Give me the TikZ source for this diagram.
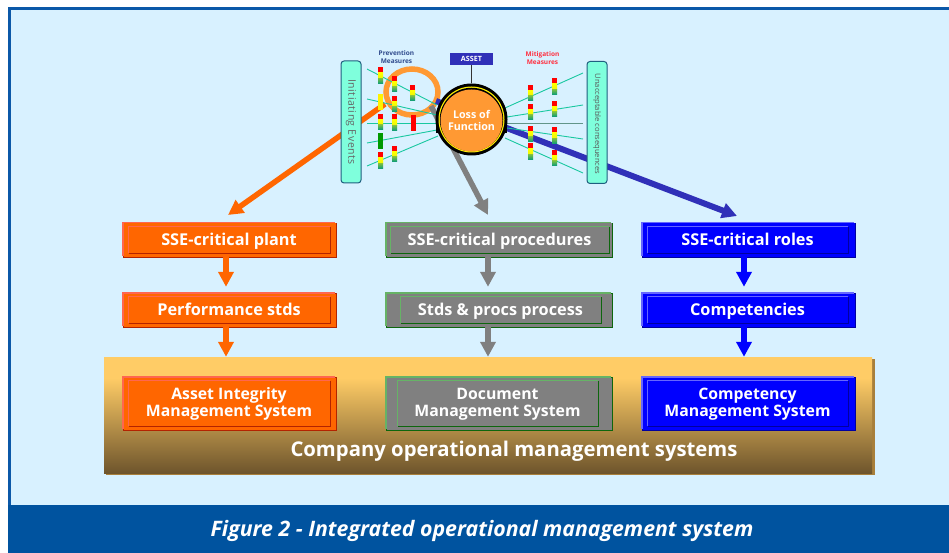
\documentclass[tikz,border=0pt]{standalone}
\usepackage{fontspec}
\setmainfont{Open Sans}
\usetikzlibrary{arrows.meta,calc,shapes.geometric}
\definecolor{bgc}{HTML}{D8F1FF}
\definecolor{bandc}{HTML}{00539F}
\definecolor{framec}{HTML}{0B58A8}
\definecolor{tealc}{HTML}{19C8A0}
\definecolor{aquac}{HTML}{7FFFDC}
\definecolor{aquaedge}{HTML}{1F5F7F}
\definecolor{ringc}{HTML}{FF9933}
\definecolor{assetc}{HTML}{3030B8}
\definecolor{prevc}{HTML}{2F4A8C}
\definecolor{mitc}{HTML}{FF3040}
\definecolor{orF}{HTML}{FF6600}\definecolor{orL}{HTML}{FF6650}\definecolor{orD}{HTML}{B32400}
\definecolor{grF}{HTML}{808080}\definecolor{grL}{HTML}{66B366}\definecolor{grD}{HTML}{0D660D}
\definecolor{blF}{HTML}{0000FF}\definecolor{blL}{HTML}{6666FF}\definecolor{blD}{HTML}{0000A0}
\definecolor{bigshadow}{HTML}{A87F3B}
\definecolor{barG}{HTML}{7CC040}\definecolor{barT}{HTML}{009980}
\pgfdeclareverticalshading{bigshade}{100bp}{rgb(0bp)=(0.431,0.333,0.173); rgb(25bp)=(0.431,0.333,0.173); rgb(66bp)=(1,0.8,0.4); rgb(100bp)=(1,0.8,0.4)}
\newcommand{\twolinefont}{\fontsize{15.8}{17}\selectfont}
\tikzset{
  tealline/.style={draw=tealc,line width=0.9pt},
  bigarrow/.style={line width=5.5pt,-{Triangle[width=15pt,length=15pt]}},
  downarrow/.style={bigarrow},
  syslabel/.style={inner sep=0pt,text=white,align=center,font=\fontsize{16.3}{17}\selectfont\bfseries,
    execute at begin node={\rule[-4.5pt]{0pt}{12.5pt}},execute at end node={\rule[-4.5pt]{0pt}{12.5pt}}},
  sidebox/.style={draw=aquaedge,fill=aquac,line width=1pt,rounded corners=3pt,inner sep=0pt,minimum width=20pt,minimum height=122pt},
}
% name, x0, y0, x1, y1, inner x0, inner x1, palette, text
\newcommand{\sysbox}[9]{%
  \fill[#8D] (#2+1,#3+1) rectangle (#4+1,#5+1);
  \fill[#8L] (#2,#3) rectangle (#4-1,#5-1);
  \fill[#8F] (#2+1.5,#3+1.5) rectangle (#4,#5-0.5);
  \fill[#8D] (#6+1,#3+5) rectangle (#7+0.6,#5-3.4);
  \fill[#8L] (#6,#3+4) rectangle (#7-0.4,#5-4.4);
  \fill[#8F] (#6+1,#3+5) rectangle (#7-0.4,#5-4.4);
  \node[syslabel,minimum width=#7pt-#6pt,minimum height=#5pt-#3pt-8pt] (#1) at ({(#6+#7)/2},{(#3+#5)/2+1.7}) {#9};
}
\newcommand{\barrier}[3]{%
  \fill[red] (#1,#2) rectangle (#1+5,#2+#3/3);
  \shade[top color=yellow,bottom color=yellow!85!barG] (#1,#2+#3/3) rectangle (#1+5,#2+#3*2/3);
  \shade[top color=barG,bottom color=barT] (#1,#2+#3*2/3) rectangle (#1+5,#2+#3);
}
\begin{document}
\begin{tikzpicture}[x=1pt,y=-1pt]
\useasboundingbox (0,0) rectangle (949,553);
\fill[white] (0,0) rectangle (949,553);
\fill[framec] (8,7) rectangle (949,553);
\fill[bgc] (11,10) rectangle (949,505);
\fill[bandc] (8,505) rectangle (949,553);
\node[inner sep=0pt,text=white,font=\fontsize{21.3}{24}\selectfont\bfseries\itshape] (caption) at (482,531) {Figure 2 - Integrated operational management system};

% company frame
\fill[bigshadow] (106,359) rectangle (875,475);
\node[inner sep=0pt,minimum width=768pt,minimum height=116pt,shading=bigshade] (bigbox) at (488,415) {};
\node[syslabel,font=\fontsize{20.3}{22}\selectfont\bfseries] (company) at (514,451) {Company operational management systems};

% boxes
\sysbox{plant}{122}{222}{336}{257}{128}{330}{or}{SSE-critical plant}
\sysbox{perf}{122}{292}{336}{327}{128}{330}{or}{Performance stds}
\sysbox{aims}{122}{376}{336}{430}{128}{330}{or}{\twolinefont Asset Integrity\\\twolinefont Management System}
\sysbox{procs}{385}{222}{612}{257}{390}{609}{gr}{SSE-critical procedures}
\sysbox{stds}{385}{292}{612}{327}{400}{601}{gr}{Stds \& procs process}
\sysbox{dms}{385}{376}{612}{430}{397}{598}{gr}{\twolinefont Document\\\twolinefont Management System}
\sysbox{roles}{641}{222}{855}{257}{647}{848}{bl}{SSE-critical roles}
\sysbox{comp}{641}{292}{855}{327}{647}{848}{bl}{Competencies}
\sysbox{cms}{641}{376}{855}{430}{647}{848}{bl}{\twolinefont Competency\\\twolinefont Management System}

% vertical arrows
\draw[downarrow,orF,shorten >=10.7pt] ([xshift=-3pt]plant.south) -- ([xshift=-3pt]perf.north);
\draw[downarrow,orF] ([xshift=-3pt]perf.south) -- ([xshift=-3pt]perf.south |- bigbox.north);
\draw[downarrow,grF,shorten >=10.7pt] ([xshift=-11.5pt]procs.south) -- ([xshift=-11.5pt]procs.south |- stds.north);
\draw[downarrow,grF] ([xshift=-12.5pt]stds.south) -- ([xshift=-12.5pt]stds.south |- bigbox.north);
\draw[downarrow,blF,shorten >=10.7pt] ([xshift=-3.5pt]roles.south) -- ([xshift=-3.5pt]comp.north);
\draw[downarrow,blF] ([xshift=-3.5pt]comp.south) -- ([xshift=-3.5pt]comp.south |- bigbox.north);

% magnifier ring
\node[draw=ringc,line width=5.5pt,ellipse,inner sep=0pt,minimum width=52pt,minimum height=46pt] (ring) at (412,92) {};

% hub connectors
\coordinate (orangestart) at (385,104);
\coordinate (graystart) at (431,106);
\coordinate (bluestart) at (436,101);
\coordinate (orangetip) at (228,215);
\coordinate (graytip) at (488,215);
\coordinate (bluetip) at (737,216);
\draw[bigarrow,orF] (orangestart) -- (orangetip);
\draw[bigarrow,grF] (graystart) -- (graytip);
\draw[bigarrow,assetc,line width=6pt] (bluestart) -- (bluetip);

% fan lines
\coordinate (a1) at (367,69);\coordinate (b1) at (437,105);
\coordinate (a2) at (367,99);\coordinate (b2) at (437,115);
\coordinate (a3) at (367,123);\coordinate (b3) at (437,123);
\coordinate (a4) at (367,143);\coordinate (b4) at (437,130);
\coordinate (a5) at (367,166);\coordinate (b5) at (438,136);
\coordinate (c1) at (505,108);\coordinate (d1) at (583,73);
\coordinate (c2) at (507,117);\coordinate (d2) at (583,105);
\coordinate (c3) at (507,123);\coordinate (d3) at (583,123);
\coordinate (c4) at (507,128);\coordinate (d4) at (583,139);
\coordinate (c5) at (505,138);\coordinate (d5) at (583,173);
\foreach \i in {1,2,3,4,5}{\draw[tealline] (a\i) -- (b\i);\draw[tealline] (c\i) -- (d\i);}
\draw[gray!70!tealc,line width=0.9pt] (c3) -- (d3);

% barriers
\barrier{378}{67}{17}
\barrier{392}{76}{16}
\barrier{410}{85}{16}
\fill[yellow] (378,94) rectangle (383,110);
\barrier{392}{96}{16}
\barrier{378}{114}{16}
\barrier{392}{114}{17}
\fill[red] (411,115) rectangle (416,131);
\fill[green!60!black] (378,133) rectangle (383,149);
\barrier{378}{152}{17}
\barrier{392}{146}{16}
\barrier{528}{85}{16}
\barrier{552}{78}{17}
\barrier{528}{104}{16}
\barrier{552}{101}{16}
\barrier{528}{126}{16}
\barrier{552}{127}{17}
\barrier{528}{143}{17}
\barrier{552}{150}{16}

% side boxes
\node[sidebox] (events) at (351,122) {};
\node[rotate=-90,inner sep=0pt,text=black!60,font=\fontsize{10.5}{12}\selectfont\addfontfeature{LetterSpace=5}] (eventsl) at (351,122) {Initiating Events};
\node[sidebox] (conseq) at (597,122.5) {};
\node[rotate=-90,inner sep=0pt,text=black!65,font=\fontsize{7.6}{10}\selectfont] (conseql) at (597,124) {Unacceptable consequences};

% hub
\node[circle,fill=black,inner sep=0pt,minimum size=72pt] (hubback) at (471.5,119.5) {};
\fill[black] (435.5,112) rectangle (507,133);
\node[circle,fill=yellow,inner sep=0pt,minimum size=66pt] (hubring) at (471.5,119.5) {};
\node[circle,fill=black,inner sep=0pt,minimum size=63.5pt] (hubgap) at (471.5,119.5) {};
\node[circle,fill=ringc,inner sep=0pt,minimum size=62pt,text=white,align=center,font=\fontsize{10.7}{12.5}\selectfont\bfseries] (loss) at (471.5,120.5) {Loss of\\Function};

% asset
\node[fill=assetc,text=white,inner sep=0pt,minimum width=43pt,minimum height=12pt,font=\fontsize{7.2}{8}\selectfont\bfseries] (asset) at (471.5,59) {ASSET};
\draw[black!80,line width=1pt] (asset.south) -- (hubback.north);

% headings
\node[inner sep=0pt,align=center,text=prevc,font=\fontsize{6.5}{8}\selectfont\bfseries] (prev) at (396.5,57.5) {Prevention\\Measures};
\node[inner sep=0pt,align=center,text=mitc,font=\fontsize{6.5}{8}\selectfont\bfseries] (mitig) at (542.5,58) {Mitigation\\Measures};
\end{tikzpicture}
\end{document}
